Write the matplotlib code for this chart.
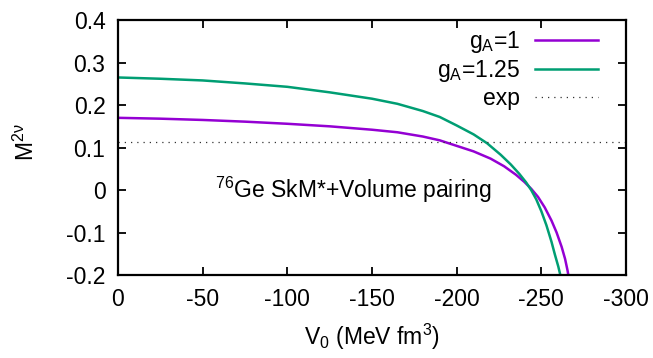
import matplotlib
matplotlib.use('Agg')
import matplotlib.pyplot as plt

plt.rcParams['font.family'] = ['Liberation Sans', 'DejaVu Sans']
plt.rcParams['mathtext.default'] = 'regular'

# gA = 1
v_ga1 = [0, -25, -50, -75, -100, -125, -150, -165, -180, -190, -200, -210,
         -220, -228, -235, -240, -244, -248, -252, -256, -259, -262, -264,
         -265.5, -266]
m_ga1 = [0.170, 0.168, 0.165, 0.161, 0.156, 0.150, 0.142, 0.136, 0.126,
         0.117, 0.104, 0.091, 0.074, 0.056, 0.036, 0.019, 0.003, -0.016,
         -0.041, -0.072, -0.100, -0.134, -0.162, -0.190, -0.202]

# gA = 1.25
v_ga125 = [0, -25, -50, -75, -100, -125, -150, -165, -180, -190, -200, -210,
           -218, -226, -232, -237, -241, -244, -247, -250, -253, -256, -258,
           -260, -261.5]
m_ga125 = [0.265, 0.262, 0.258, 0.251, 0.243, 0.230, 0.215, 0.203, 0.186,
           0.172, 0.152, 0.131, 0.110, 0.083, 0.060, 0.038, 0.018, 0.000,
           -0.022, -0.050, -0.083, -0.122, -0.152, -0.180, -0.205]

m_exp = 0.113

xticks = [0, -50, -100, -150, -200, -250, -300]
yticks = [-0.2, -0.1, 0, 0.1, 0.2, 0.3, 0.4]
ytick_labels = ['-0.2', '-0.1', '0', '0.1', '0.2', '0.3', '0.4']

fs = 16.5

fig = plt.figure(figsize=(6.53, 3.58), dpi=100)
ax = fig.add_axes([0.1807, 0.2318, 0.778, 0.712])

ax.plot(v_ga1, m_ga1, color='#9400D3', lw=1.8, label='g$_A$=1')
ax.plot(v_ga125, m_ga125, color='#009E73', lw=1.8, label='g$_A$=1.25')
ax.axhline(m_exp, color='#333333', lw=0.9, linestyle=(0, (1, 4)), label='exp')

ax.set_xlim(0, -300)
ax.set_ylim(-0.2, 0.4)
ax.set_xticks(xticks)
ax.set_xticklabels([str(t) for t in xticks])
ax.set_yticks(yticks)
ax.set_yticklabels(ytick_labels)
ax.tick_params(direction='in', length=6, width=1.3, labelsize=fs,
               top=True, right=True, pad=9)
for s in ax.spines.values():
    s.set_linewidth(1.6)

ax.set_xlabel('V$_0$ (MeV fm$^3$)', fontsize=fs)
ax.xaxis.set_label_coords(0.5, -0.185)
ax.set_ylabel('M$^{2\\nu}$', fontsize=fs)
ax.yaxis.set_label_coords(-0.155, 0.52)

ax.text(-139, 0.0, '$^{76}$Ge SkM*+Volume pairing', fontsize=fs,
        ha='center', va='center')

ax.legend(loc='upper right', bbox_to_anchor=(0.945, 0.965), frameon=False,
          markerfirst=False, fontsize=fs, handlelength=2.75,
          handletextpad=0.65, labelspacing=0.12, borderpad=0,
          borderaxespad=0)

fig.savefig('out.png', dpi=100)
